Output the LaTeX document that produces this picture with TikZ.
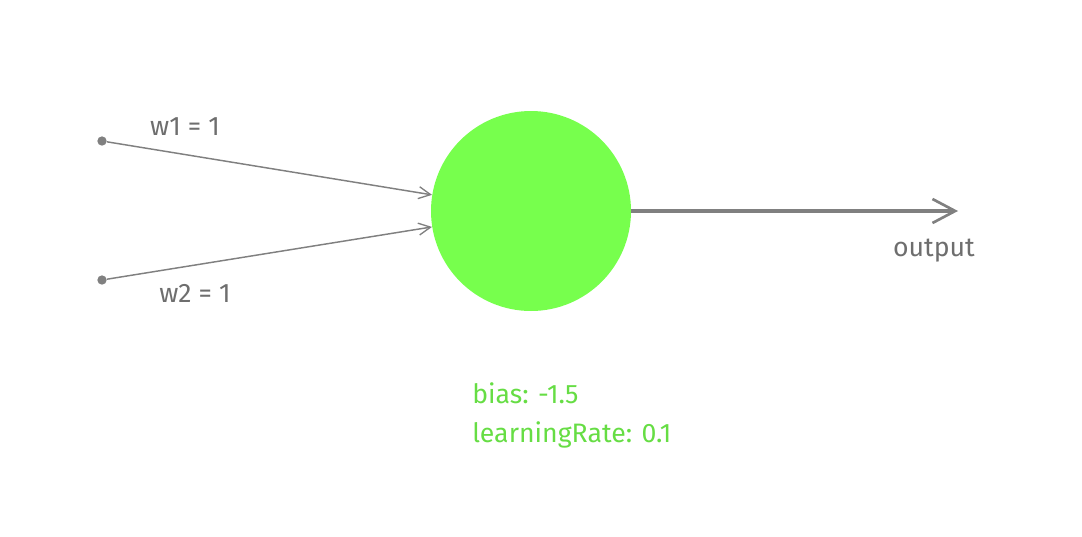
\documentclass[tikz,border=0pt]{standalone}
\usepackage{fontspec}
\setmainfont{Fira Sans}
\usetikzlibrary{arrows.meta}
\definecolor{linegray}{HTML}{808080}
\definecolor{textgray}{HTML}{6E6E6E}
\definecolor{neurongreen}{HTML}{77FF4D}
\definecolor{infogreen}{HTML}{66DD44}
\tikzset{
  input/.style={circle, fill=linegray, inner sep=0pt, minimum size=7pt},
  weight/.style={->, >={Straight Barb[length=9pt, width=9pt, line width=1pt]}, draw=linegray, line width=1.1pt},
  lbl/.style={text=textgray, font=\fontsize{20}{24}\selectfont},
  info/.style={text=infogreen, font=\fontsize{20}{24}\selectfont, anchor=base west, inner sep=0pt}
}
\begin{document}
\begin{tikzpicture}[x=0.75pt, y=-0.75pt]
  \useasboundingbox (0,0) rectangle (1082,536);

  % inputs and neuron
  \node[input] (in1) at (102,141) {};
  \node[input] (in2) at (102,280) {};
  \node[circle, fill=neurongreen, minimum size=150pt, inner sep=0pt] (neuron) at (531,211) {};
  \coordinate (out) at (958,211);

  \draw[weight] (in1) -- (neuron);
  \draw[weight] (in2) -- (neuron);
  \draw[->, >={Straight Barb[length=17pt, width=18pt, line width=2pt]}, draw=linegray, line width=2.4pt] (neuron) -- (out);

  % labels
  \node[lbl] (w1) at (185,127) {w1 = 1};
  \node[lbl] (w2) at (195,293) {w2 = 1};
  \node[lbl] (outlbl) at (934,251) {output};
  \node[info] (bias) at (472,403) {bias: -1.5};
  \node[info] (rate) at (472,442) {learningRate: 0.1};
\end{tikzpicture}
\end{document}
